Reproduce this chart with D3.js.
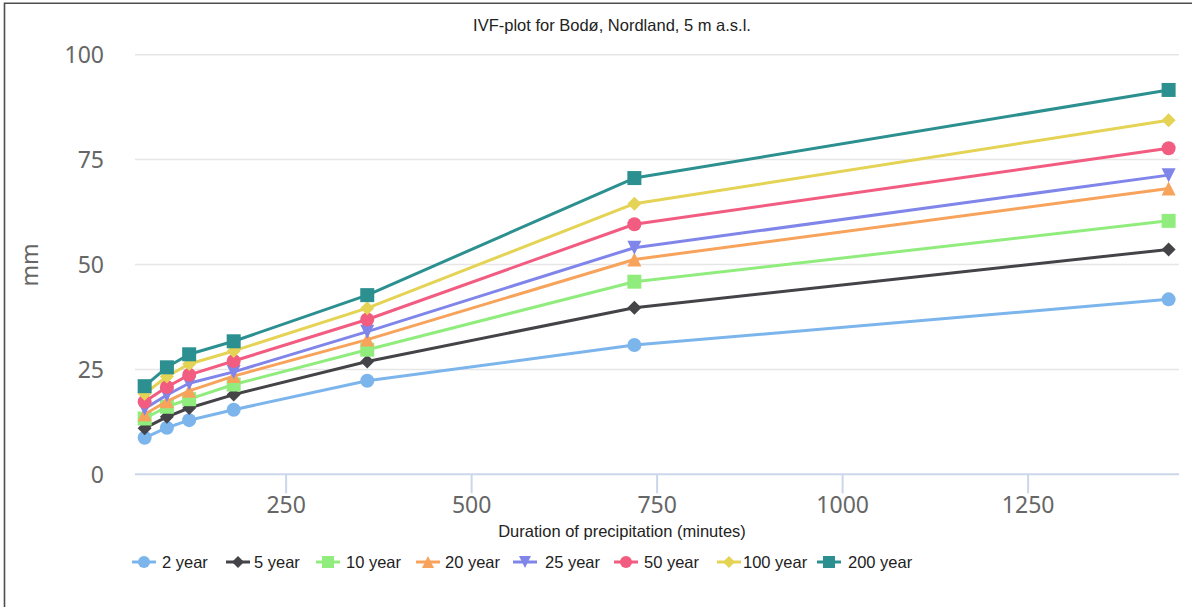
<!DOCTYPE html>
<html>
<head>
<meta charset="utf-8">
<script src="https://cdn.jsdelivr.net/npm/d3@7"></script>
<style>
  html, body { margin: 0; padding: 0; background: #fff; }
  svg { display: block; }
</style>
</head>
<body>
<svg id="chart" width="1192" height="607"></svg>
<script>
// Durations (minutes) on the x axis
const durations = [60, 90, 120, 180, 360, 720, 1440];

// Precipitation depth (mm) per return period
const year2   = [8.7, 11.1, 12.9, 15.4, 22.3, 30.8, 41.7];
const year5   = [11.0, 13.7, 15.8, 19.0, 26.9, 39.7, 53.6];
const year10  = [13.3, 16.1, 17.9, 21.4, 29.7, 45.9, 60.4];
const year20  = [14.3, 17.4, 19.9, 23.4, 32.1, 51.2, 68.1];
const year25  = [15.6, 18.9, 21.7, 24.4, 34.0, 54.0, 71.3];
const year50  = [17.3, 20.8, 23.7, 27.0, 36.9, 59.6, 77.7];
const year100 = [19.2, 23.3, 26.3, 29.4, 39.6, 64.5, 84.4];
const year200 = [21.0, 25.5, 28.6, 31.7, 42.7, 70.6, 91.6];

const seriesNames  = ["2 year", "5 year", "10 year", "20 year", "25 year", "50 year", "100 year", "200 year"];
const seriesValues = [year2, year5, year10, year20, year25, year50, year100, year200];
const seriesColors = ["#7cb5ec", "#434348", "#90ed7d", "#f7a35c", "#8085e9", "#f15c80", "#e4d354", "#2b908f"];
const seriesSymbols = ["circle", "diamond", "square", "triangle", "triangle-down", "circle", "diamond", "square"];

const xTicks = [250, 500, 750, 1000, 1250];
const yTicks = [0, 25, 50, 75, 100];

const titleText = "IVF-plot for Bodø, Nordland, 5 m a.s.l.";
const xTitle = "Duration of precipitation (minutes)";
const yTitle = "mm";

const svg = d3.select("#chart");
const W = 1192, H = 607;
const plot = { left: 135, right: 1179, top: 54.7, bottom: 474.3 };

svg.append("rect").attr("width", W).attr("height", H).attr("fill", "#fff");

// frame edges
svg.append("path")
  .attr("d", `M4.5,${H} L4.5,3.3 L${W},3.3`)
  .attr("fill", "none").attr("stroke", "#4d4d4d").attr("stroke-width", 1.6);

const x = d3.scaleLinear().domain([47, 1454]).range([plot.left, plot.right]);
const y = d3.scaleLinear().domain([0, 100]).range([plot.bottom, plot.top]);

const tickFont = "'Noto Sans', 'DejaVu Sans', sans-serif";
const textFont = "'Liberation Sans', Arial, sans-serif";

// horizontal grid
svg.append("g").selectAll("line")
  .data(yTicks.filter(d => d > 0))
  .join("line")
  .attr("x1", plot.left).attr("x2", plot.right)
  .attr("y1", d => y(d)).attr("y2", d => y(d))
  .attr("stroke", "#e6e6e6").attr("stroke-width", 1.5);

// x axis built with d3.axisBottom, then styled
const xAxis = d3.axisBottom(x).tickValues(xTicks).tickSize(19).tickSizeOuter(0).tickPadding(4).tickFormat(d3.format("d"));
const gx = svg.append("g").attr("transform", `translate(0,${plot.bottom})`).call(xAxis);
gx.select(".domain").remove();
gx.selectAll(".tick line").attr("stroke", "#ccd6eb").attr("stroke-width", 2);
gx.selectAll(".tick text")
  .attr("fill", "#666").attr("font-family", tickFont).attr("font-size", 23)
  .attr("dy", null).attr("y", 39);
svg.append("line")
  .attr("x1", plot.left).attr("x2", plot.right)
  .attr("y1", plot.bottom).attr("y2", plot.bottom)
  .attr("stroke", "#ccd6eb").attr("stroke-width", 2);

// y axis labels
const yAxis = d3.axisLeft(y).tickValues(yTicks).tickSize(0).tickPadding(31);
const gy = svg.append("g").attr("transform", `translate(${plot.left},0)`).call(yAxis);
gy.select(".domain").remove();
gy.selectAll(".tick text")
  .attr("fill", "#666").attr("font-family", tickFont).attr("font-size", 23)
  .attr("dy", "0.36em");

// titles
svg.append("text")
  .attr("x", 612).attr("y", 31)
  .attr("text-anchor", "middle")
  .attr("font-family", textFont).attr("font-size", 16.5).attr("fill", "#222")
  .text(titleText);

svg.append("text")
  .attr("x", 622).attr("y", 537)
  .attr("text-anchor", "middle")
  .attr("font-family", textFont).attr("font-size", 16.5).attr("fill", "#222")
  .text(xTitle);

svg.append("text")
  .attr("transform", "translate(38,265) rotate(-90)")
  .attr("text-anchor", "middle")
  .attr("font-family", tickFont).attr("font-size", 23).attr("fill", "#666")
  .text(yTitle);

// marker shapes
function markerPath(type, r) {
  switch (type) {
    case "circle":
      return `M${-r},0 A${r},${r} 0 1,0 ${r},0 A${r},${r} 0 1,0 ${-r},0 Z`;
    case "square":
      return `M${-r},${-r} L${r},${-r} L${r},${r} L${-r},${r} Z`;
    case "diamond":
      return `M0,${-r} L${r},0 L0,${r} L${-r},0 Z`;
    case "triangle":
      return `M0,${-r} L${r},${r} L${-r},${r} Z`;
    case "triangle-down":
      return `M${-r},${-r} L${r},${-r} L0,${r} Z`;
  }
}

const line = d3.line().x(d => x(d[0])).y(d => y(d[1]));

const series = seriesNames.map((name, i) => ({
  name,
  color: seriesColors[i],
  symbol: seriesSymbols[i],
  points: durations.map((d, j) => [d, seriesValues[i][j]])
}));

const gSeries = svg.append("g");
series.forEach(s => {
  const g = gSeries.append("g");
  g.append("path")
    .attr("d", line(s.points))
    .attr("fill", "none").attr("stroke", s.color)
    .attr("stroke-width", 3).attr("stroke-linejoin", "round").attr("stroke-linecap", "round");
  g.selectAll("path.marker")
    .data(s.points)
    .join("path")
    .attr("class", "marker")
    .attr("transform", d => `translate(${x(d[0])},${y(d[1])})`)
    .attr("d", markerPath(s.symbol, 7))
    .attr("fill", s.color);
});

// legend
const legendSymbolStart = [132, 226, 316, 416, 513, 614, 717, 817];
const legendTextStart   = [162, 254, 346, 445, 545, 644, 743, 848];
const legendY = 562;
const gl = svg.append("g");
series.forEach((s, i) => {
  const x0 = legendSymbolStart[i];
  const x1 = x0 + 24;
  gl.append("line")
    .attr("x1", x0).attr("x2", x1).attr("y1", legendY).attr("y2", legendY)
    .attr("stroke", s.color).attr("stroke-width", 3);
  gl.append("path")
    .attr("transform", `translate(${(x0 + x1) / 2},${legendY})`)
    .attr("d", markerPath(s.symbol, 6))
    .attr("fill", s.color);
  gl.append("text")
    .attr("x", legendTextStart[i]).attr("y", legendY + 6)
    .attr("font-family", textFont).attr("font-size", 16.5).attr("fill", "#222")
    .text(s.name);
});
</script>
</body>
</html>
